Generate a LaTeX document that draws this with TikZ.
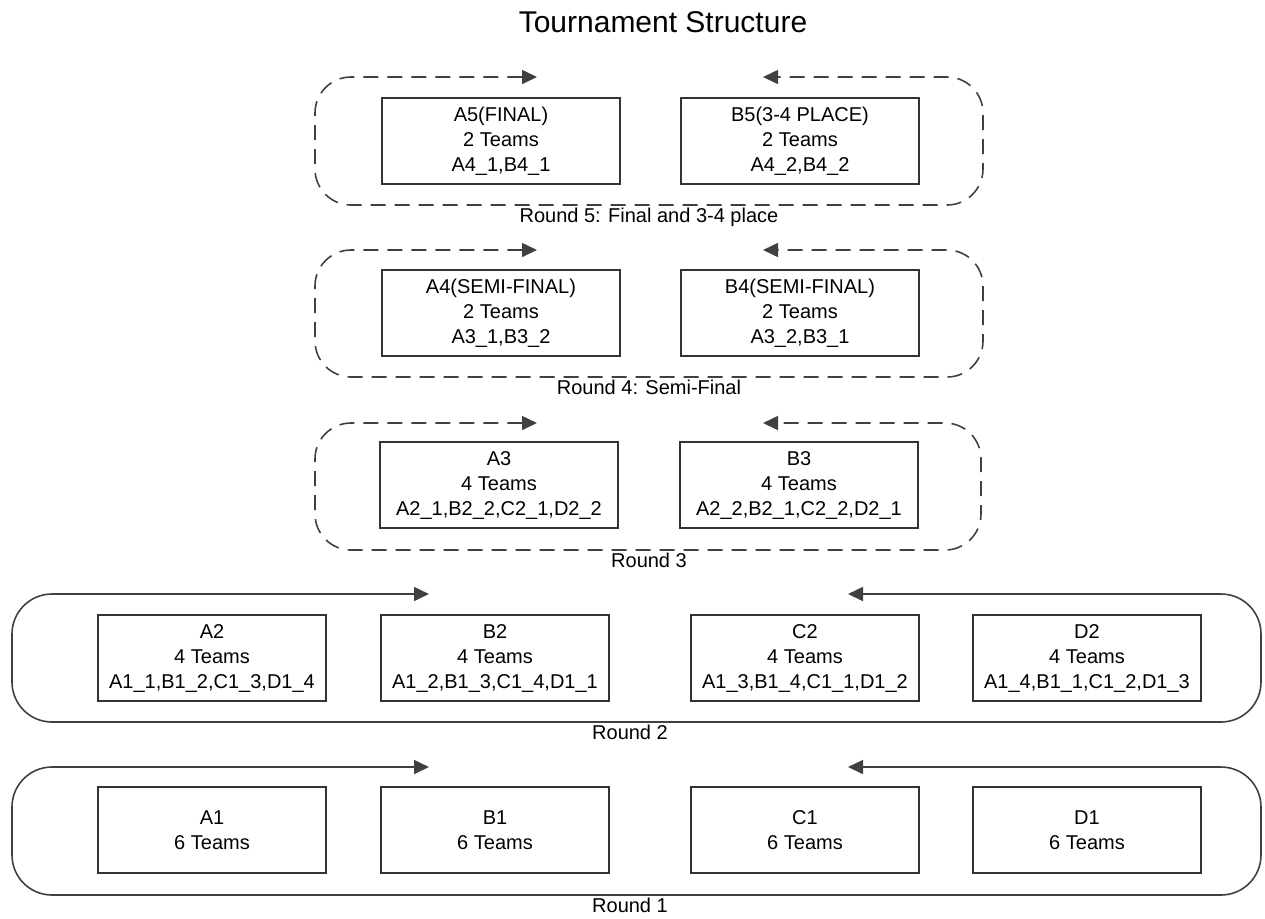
\documentclass[tikz,border=0pt]{standalone}
\usepackage{fontspec}
\setmainfont{Liberation Sans}
\usetikzlibrary{arrows.meta, positioning}

\begin{document}
\begin{tikzpicture}[
            x=0.5pt, y=-0.5pt,
            group/.style={rectangle, draw=black!80, line width=0.9pt, minimum width=119pt, minimum height=43pt, inner sep=0pt, align=center, font=\fontsize{10}{12.5}\selectfont},
            pool/.style={group, minimum width=114pt},
            loopline/.style={draw=black!75, line width=0.8pt, rounded corners=20pt, {Triangle[length=7.5pt,width=7pt]}-{Triangle[length=7.5pt,width=7pt]}},
            later/.style={loopline, dash pattern=on 7.5pt off 4.5pt, rounded corners=18pt},
            caption/.style={below, inner sep=1.5pt, font=\fontsize{10}{12}\selectfont}
        ]
            \useasboundingbox (0,0) rectangle (1265,918);
            \node[font=\fontsize{15}{18}\selectfont] (title) at (663,22) {Tournament Structure};

            % round 5
            \node[group] (A5) at (501,141) {A5(FINAL)\\2 Teams\\A4\_1,B4\_1};
            \node[group] (B5) at (800,141) {B5(3-4 PLACE)\\2 Teams\\A4\_2,B4\_2};
            \draw[later] (537,77) -- (315,77) -- (315,205) -- (983,205) -- (983,77) -- (763,77);
            \node[caption] (r5) at (649,205) {Round 5: Final and 3-4 place};

            % round 4
            \node[group] (A4) at (501,313) {A4(SEMI-FINAL)\\2 Teams\\A3\_1,B3\_2};
            \node[group] (B4) at (800,313) {B4(SEMI-FINAL)\\2 Teams\\A3\_2,B3\_1};
            \draw[later] (537,250) -- (315,250) -- (315,377) -- (983,377) -- (983,250) -- (763,250);
            \node[caption] (r4) at (649,377) {Round 4: Semi-Final};

            % round 3
            \node[group] (A3) at (499,485) {A3\\4 Teams\\A2\_1,B2\_2,C2\_1,D2\_2};
            \node[group] (B3) at (799,485) {B3\\4 Teams\\A2\_2,B2\_1,C2\_2,D2\_1};
            \draw[later] (537,423) -- (315,423) -- (315,550) -- (981,550) -- (981,423) -- (763,423);
            \node[caption] (r3) at (649,550) {Round 3};

            % round 2
            \node[pool] (A2) at (212,658) {A2\\4 Teams\\A1\_1,B1\_2,C1\_3,D1\_4};
            \node[pool] (B2) at (495,658) {B2\\4 Teams\\A1\_2,B1\_3,C1\_4,D1\_1};
            \node[pool] (C2) at (805,658) {C2\\4 Teams\\A1\_3,B1\_4,C1\_1,D1\_2};
            \node[pool] (D2) at (1087,658) {D2\\4 Teams\\A1\_4,B1\_1,C1\_2,D1\_3};
            \draw[loopline] (429,594) -- (12,594) -- (12,722) -- (1261,722) -- (1261,594) -- (848,594);
            \node[caption] (r2) at (630,722) {Round 2};

            % round 1
            \node[pool] (A1) at (212,830) {A1\\6 Teams};
            \node[pool] (B1) at (495,830) {B1\\6 Teams};
            \node[pool] (C1) at (805,830) {C1\\6 Teams};
            \node[pool] (D1) at (1087,830) {D1\\6 Teams};
            \draw[loopline] (429,767) -- (12,767) -- (12,895) -- (1261,895) -- (1261,767) -- (848,767);
            \node[caption] (r1) at (630,895) {Round 1};
        \end{tikzpicture}
\end{document}
